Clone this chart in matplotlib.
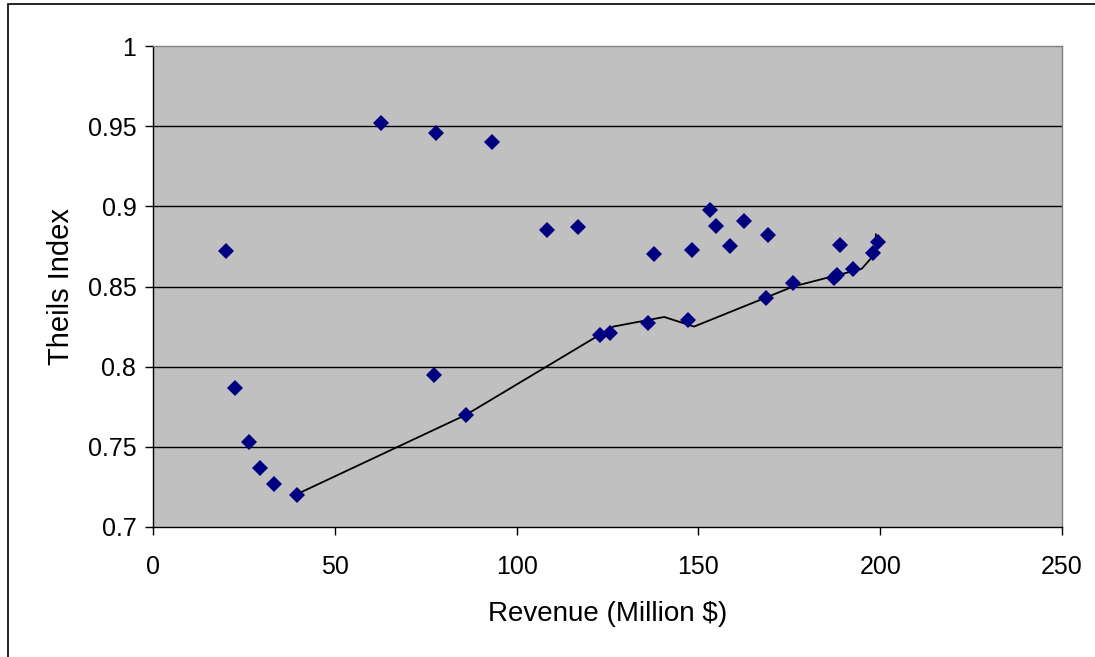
import matplotlib.pyplot as plt
from matplotlib.patches import Rectangle

# --- data ---
revenue = [20.1, 22.5, 26.4, 29.4, 33.3, 39.6, 62.7, 77.3, 77.8, 86.1,
           93.2, 108.4, 116.9, 122.9, 125.7, 136.1, 137.8, 147.1, 148.2, 153.2,
           154.8, 158.7, 162.5, 168.6, 169.1, 176.0, 187.3, 188.1, 188.9, 192.5,
           198.0, 199.4]
theils = [0.872, 0.787, 0.753, 0.737, 0.727, 0.720, 0.952, 0.795, 0.946, 0.770,
          0.940, 0.885, 0.887, 0.820, 0.821, 0.827, 0.870, 0.829, 0.873, 0.898,
          0.888, 0.875, 0.891, 0.843, 0.882, 0.852, 0.855, 0.857, 0.876, 0.861,
          0.871, 0.878]

# lower envelope line
line_x = [39.6, 86.1, 126.6, 140.6, 148.8, 176.1, 194.9, 198.8, 198.8]
line_y = [0.7205, 0.770, 0.825, 0.831, 0.825, 0.850, 0.861, 0.871, 0.8825]

x_ticks = [0, 50, 100, 150, 200, 250]
y_ticks = [0.7, 0.75, 0.8, 0.85, 0.9, 0.95, 1.0]
y_tick_labels = ["0.7", "0.75", "0.8", "0.85", "0.9", "0.95", "1"]

plt.rcParams['font.family'] = ['Liberation Sans', 'DejaVu Sans']

fig = plt.figure(figsize=(10.95, 6.57), dpi=100)
fig.patches.append(Rectangle((8 / 1095, -0.01), 1.1, 1 - 4 / 657 + 0.01,
                             transform=fig.transFigure, fill=False,
                             edgecolor='black', linewidth=1.2))

ax = fig.add_axes([153 / 1095, 1 - 527 / 657, (1062 - 153) / 1095, (527 - 46) / 657])
ax.set_facecolor('#C0C0C0')

ax.set_xlim(0, 250)
ax.set_ylim(0.7, 1.0)
ax.set_xticks(x_ticks)
ax.set_yticks(y_ticks)
ax.set_yticklabels(y_tick_labels)

for y in y_ticks[1:-1]:
    ax.axhline(y, color='black', linewidth=1.0, zorder=1)

ax.plot(line_x, line_y, color='black', linewidth=1.3, zorder=2)
ax.plot(revenue, theils, linestyle='none', marker='D', markersize=8.5,
        markerfacecolor='#000080', markeredgewidth=0, zorder=3)

for side in ['top', 'right']:
    ax.spines[side].set_color('#808080')
for side in ['left', 'bottom']:
    ax.spines[side].set_color('black')
for s in ax.spines.values():
    s.set_linewidth(1.0)

ax.tick_params(direction='out', length=6, width=1, labelsize=18)
ax.tick_params(axis='y', pad=6)
ax.tick_params(axis='x', pad=14)
ax.set_xlabel("Revenue (Million $)", fontsize=20, labelpad=16)
ax.set_ylabel("Theils Index", fontsize=21, labelpad=9)

fig.savefig("out.png", dpi=100)
